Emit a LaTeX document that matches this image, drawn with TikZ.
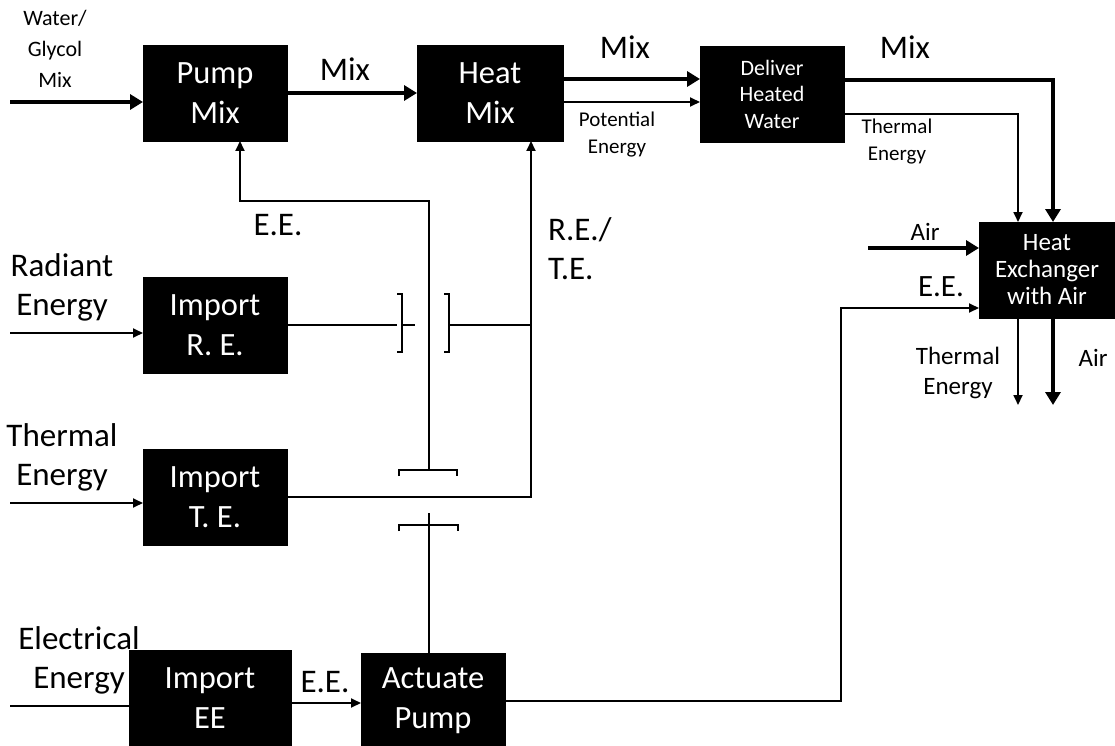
\documentclass[tikz,border=0pt]{standalone}
\usepackage{fontspec}
\setmainfont{Carlito}
\usetikzlibrary{arrows.meta}

\tikzset{
  funcbox/.style={
    draw=black, fill=black, text=white,
    minimum width=144pt, minimum height=96pt,
    align=center, inner sep=0pt,
    font=\fontsize{32.5}{40}\selectfont
  },
  smallbox/.style={
    funcbox,
    font=\fontsize{22}{26.5}\selectfont
  },
  biglabel/.style={
    align=center, inner sep=0pt,
    font=\fontsize{33}{39}\selectfont
  },
  midlabel/.style={
    align=center, inner sep=0pt,
    font=\fontsize{25}{30}\selectfont
  },
  smalllabel/.style={
    align=center, inner sep=0pt,
    font=\fontsize{21}{27}\selectfont
  },
  thinflow/.style={line width=1.8pt, -{Triangle[length=10pt,width=9pt]}},
  thickflow/.style={line width=4pt, -{Triangle[length=13pt,width=15pt]}},
  wire/.style={line width=1.8pt},
}

\begin{document}
\begin{tikzpicture}[x=1pt, y=-1pt, every node/.style={outer sep=0pt}]
\useasboundingbox (0,0) rectangle (1115,746);

%% Function boxes
\node[funcbox, anchor=north west] (pump) at (143,45) {Pump\\Mix};
\node[funcbox, anchor=north west, minimum width=146pt] (heat) at (417,45) {Heat\\Mix};
\node[smallbox, anchor=north west] (deliver) at (700,46) {Deliver\\Heated\\Water};
\node[smallbox, anchor=north west, minimum width=136pt,
  font=\fontsize{25}{27}\selectfont] (hx) at (979,222)
  {Heat\\Exchanger\\with Air};
\node[funcbox, anchor=north west] (importre) at (143,277) {Import\\R. E.};
\node[funcbox, anchor=north west] (importte) at (143,449) {Import\\T. E.};
\node[funcbox, anchor=north west, minimum width=162pt] (importee) at (129,650) {Import\\EE};
\node[funcbox, anchor=north west] (actuate) at (361,653) {Actuate\\Pump};

%% Flow labels
\node[midlabel, font=\fontsize{22}{31}\selectfont] (wglabel) at (55,49) {Water/\\Glycol\\Mix};
\node[biglabel] (mixa) at (345,69) {Mix};
\node[biglabel] (mixb) at (625,47) {Mix};
\node[biglabel] (mixc) at (905,47) {Mix};
\node[smalllabel] (pelabel) at (617,135) {Potential\\Energy};
\node[smalllabel] (tdlabel) at (897,142) {Thermal\\Energy};
\node[biglabel] (eelabel) at (278,225) {E.E.};
\node[biglabel, align=left, anchor=west] (retelabel) at (548,249) {R.E./\\T.E.};
\node[biglabel] (relabel) at (62,287) {Radiant\\Energy};
\node[biglabel] (thlabel) at (62,457) {Thermal\\Energy};
\node[biglabel] (ellabel) at (79,660) {Electrical\\Energy};
\node[biglabel] (eeblabel) at (325,682) {E.E.};
\node[midlabel] (airin) at (925,232) {Air};
\node[biglabel, font=\fontsize{31}{36}\selectfont] (eehx) at (941,287) {E.E.};
\node[midlabel] (thout) at (958,373) {Thermal\\Energy};
\node[midlabel] (airout) at (1093,358) {Air};

%% Free ends and bends
\coordinate (wgin) at (10,102);
\coordinate (rein) at (10,333);
\coordinate (tein) at (10,503);
\coordinate (eein) at (10,706);
\coordinate (airsrc) at (868,248);
\coordinate (thsink) at (1018,405);
\coordinate (airsink) at (1053,405);
\coordinate (eecol) at (841,308);
\coordinate (eelow) at (429,513);
\coordinate (eeup) at (429,470);
\coordinate (eetop) at (429,201);
\coordinate (releft) at (397,325);
\coordinate (reright) at (444,325);
\coordinate (tecol) at (531,0);

%% Inputs
\draw[thickflow] (wgin) -- (wgin -| pump.west);
\draw[thinflow] (rein) -- (rein -| importre.west);
\draw[thinflow] (tein) -- (tein -| importte.west);
\draw[wire] (eein) -- (eein -| importee.west);

%% Mix path
\draw[thickflow] (pump.east) -- (heat.west);
\draw[thickflow] ([yshift=14pt]heat.east) -- ([yshift=14pt]heat.east -| deliver.west);
\draw[thinflow] ([yshift=-9pt]heat.east) -- ([yshift=-9pt]heat.east -| deliver.west);
\draw[thickflow] ([yshift=14pt]deliver.east) -| ([xshift=6pt]hx.north);
\draw[thinflow] ([yshift=-20pt]deliver.east) -| ([xshift=-29pt]hx.north);

%% Heat exchanger in and out
\draw[thickflow] (airsrc) -- (airsrc -| hx.west);
\draw[thinflow] (thsink |- hx.south) -- (thsink);
\draw[thickflow] (airsink |- hx.south) -- (airsink);

%% Electrical energy
\draw[thinflow] ([yshift=-5pt]importee.east) -- ([yshift=-5pt]importee.east -| actuate.west);
\draw[thinflow] (actuate.east) -| (eecol) -- (eecol -| hx.west);
\draw[wire] (actuate.north -| eelow) -- (eelow);
\draw[wire] (eelow) ++(-30,18) -- ++(0,-6) -- ++(59,0) -- ++(0,6);
\draw[wire] (eeup) ++(-30,6) -- ++(0,-6) -- ++(58,0) -- ++(0,6);
\draw[thinflow] (eeup) -- (eetop) -| ([xshift=25pt]pump.south);

%% Radiant and thermal energy
\draw[wire] (importre.east) -- (releft);
\draw[wire] (releft) ++(0,-31) -- ++(5,0) -- ++(0,58) -- ++(-5,0);
\draw[wire] ([xshift=5pt]releft) -- ++(13,0);
\draw[wire] (reright) ++(0,-31) -- ++(5,0) -- ++(0,58) -- ++(-5,0);
\draw[wire] ([xshift=5pt]reright) -- (reright -| tecol);
\draw[thinflow] (importte.east) -| (tecol |- heat.south);

\end{tikzpicture}
\end{document}
